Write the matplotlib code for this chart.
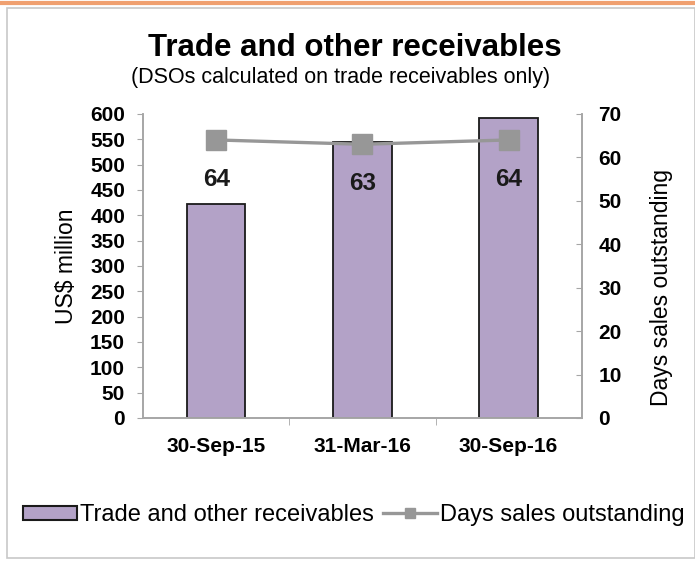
import matplotlib.pyplot as plt
from matplotlib.patches import Rectangle
from matplotlib.lines import Line2D

plt.rcParams["font.family"] = ["Liberation Sans", "DejaVu Sans"]

dates = ["30-Sep-15", "31-Mar-16", "30-Sep-16"]
receivables = [422, 545, 592]
dso = [64, 63, 64]
left_ticks = list(range(0, 601, 50))
right_ticks = list(range(0, 71, 10))

bar_color = "#B3A2C7"
line_color = "#979797"
axis_color = "#A6A6A6"

fig = plt.figure(figsize=(6.95, 5.61), dpi=100)
ax = fig.add_axes([0.206, 0.255, 0.631, 0.542])
ax2 = ax.twinx()

x = range(len(dates))
ax.bar(x, receivables, width=0.4, color=bar_color, edgecolor="#1a1a1a", linewidth=1.3, zorder=2)
ax2.plot(x, dso, color=line_color, linewidth=2.4, marker="s", markersize=14, zorder=3)
for i, v in enumerate(dso):
    ax2.annotate(str(v), (i, v), xytext=(0, -20), textcoords="offset points",
                 ha="center", va="top", fontsize=17.5, fontweight="bold", color="#1a1a1a")

ax.set_xlim(-0.5, 2.5)
ax.set_ylim(0, 600)
ax2.set_ylim(0, 70)
ax.set_yticks(left_ticks)
ax2.set_yticks(right_ticks)
ax.set_xticks(list(x))
ax.set_xticklabels(dates, fontsize=15, fontweight="bold")
ax.set_xticks([0.5, 1.5], minor=True)
ax.tick_params(axis="x", which="major", length=0, pad=14)
ax.tick_params(axis="x", which="minor", length=5, color=axis_color)
ax.tick_params(axis="y", labelsize=15, length=4, color=axis_color, pad=9)
ax2.tick_params(axis="y", labelsize=15, length=4, direction="in", color=axis_color, pad=12)
for lab in ax.get_yticklabels() + ax2.get_yticklabels():
    lab.set_fontweight("bold")

for a in (ax, ax2):
    a.spines["top"].set_visible(False)
    for s in ("left", "right", "bottom"):
        a.spines[s].set_color(axis_color)
        a.spines[s].set_linewidth(1.2)
ax.set_zorder(ax2.get_zorder() - 1)
ax2.patch.set_visible(False)
ax.patch.set_visible(False)

ax.set_ylabel("US$ million", fontsize=16.5, labelpad=9)
ax2.set_ylabel("Days sales outstanding", fontsize=16.5, labelpad=20)
ax2.yaxis.label.set_y(0.43)

fig.text(0.51, 0.915, "Trade and other receivables", ha="center", va="center",
         fontsize=22.5, fontweight="bold")
fig.text(0.49, 0.862, "(DSOs calculated on trade receivables only)", ha="center",
         va="center", fontsize=15.5)

handles = [Rectangle((0, 0), 1, 1, facecolor=bar_color, edgecolor="#1a1a1a", linewidth=1.5),
           Line2D([], [], color=line_color, linewidth=2.4, marker="s", markersize=7)]
fig.legend(handles, ["Trade and other receivables", "Days sales outstanding"],
           loc="center", bbox_to_anchor=(0.509, 0.082), ncol=2, frameon=False,
           fontsize=17, handlelength=2.3, handleheight=0.55, handletextpad=0.13,
           columnspacing=0.35, borderpad=0, borderaxespad=0)

# chart frame and orange rule at the top
fig.add_artist(Rectangle((0.01, 0.006), 0.99, 0.98, transform=fig.transFigure,
                         fill=False, edgecolor="#C8C8C8", linewidth=1.2))
fig.add_artist(Line2D([0, 1], [0.994, 0.994], transform=fig.transFigure,
                      color="#F0A070", linewidth=3))

plt.savefig("out.png", dpi=100)
